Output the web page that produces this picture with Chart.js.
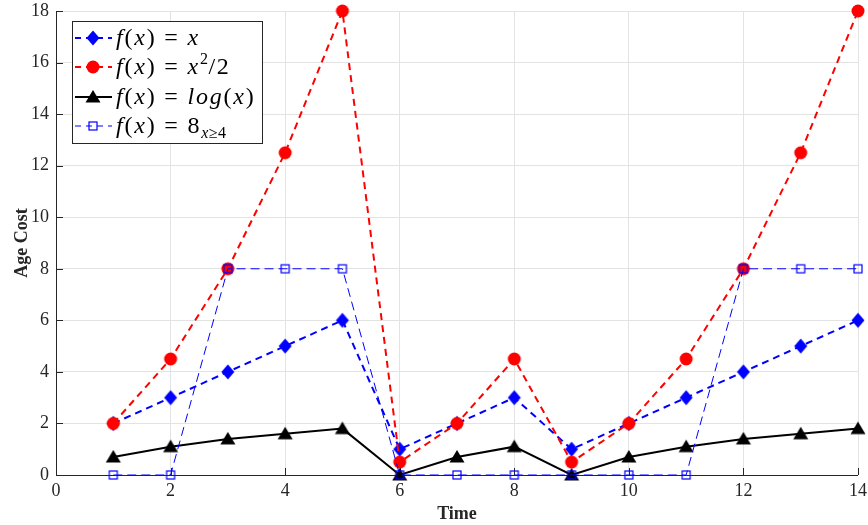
<!DOCTYPE html>
<html>
<head>
<meta charset="utf-8">
<script src="https://cdn.jsdelivr.net/npm/chart.js@4.4.1/dist/chart.umd.min.js"></script>
<style>
  html, body { margin: 0; padding: 0; background: #fff; }
  #wrap { width: 868px; height: 525px; position: relative; }
</style>
</head>
<body>
<div id="wrap"><canvas id="c" width="868" height="525"></canvas></div>
<script>
// Time steps and the cost curves evaluated at each step
const times = [1, 2, 3, 4, 5, 6, 7, 8, 9, 10, 11, 12, 13, 14];
const linearCost = [2, 3, 4, 5, 6, 1, 2, 3, 1, 2, 3, 4, 5, 6];
const squareCost = [2, 4.5, 8, 12.5, 18, 0.5, 2, 4.5, 0.5, 2, 4.5, 8, 12.5, 18];
const logCost = [0.7, 1.1, 1.4, 1.6, 1.8, 0, 0.7, 1.1, 0, 0.7, 1.1, 1.4, 1.6, 1.8];
const stepCost = [0, 0, 8, 8, 8, 0, 0, 0, 0, 0, 0, 8, 8, 8];

const xTicks = [0, 2, 4, 6, 8, 10, 12, 14];
const yTicks = [0, 2, 4, 6, 8, 10, 12, 14, 16, 18];

const BLUE = '#0000ff';
const RED = '#ff0000';
const BLACK = '#000000';
const SERIF = 'Liberation Serif';

function toPoints(vals) {
  return times.map((t, i) => ({ x: t, y: vals[i] }));
}

// Marker glyphs drawn on small canvases
function makeMarker(kind, color) {
  const s = 20;
  const cv = document.createElement('canvas');
  cv.width = s; cv.height = s;
  const g = cv.getContext('2d');
  const c = s / 2;
  g.fillStyle = color;
  g.strokeStyle = color;
  g.beginPath();
  if (kind === 'diamond') {
    g.moveTo(c, c - 7.5); g.lineTo(c + 6.5, c); g.lineTo(c, c + 7.5); g.lineTo(c - 6.5, c);
    g.closePath(); g.fill();
  } else if (kind === 'circle') {
    g.arc(c, c, 6.5, 0, Math.PI * 2); g.fill();
  } else if (kind === 'triangle') {
    g.moveTo(c, c - 7); g.lineTo(c + 7.5, c + 5.5); g.lineTo(c - 7.5, c + 5.5);
    g.closePath(); g.fill();
  } else if (kind === 'square') {
    g.lineWidth = 1.2;
    g.strokeRect(c - 4, c - 4, 8, 8);
  }
  return cv;
}

const markers = {
  diamond: makeMarker('diamond', BLUE),
  circle: makeMarker('circle', RED),
  triangle: makeMarker('triangle', BLACK),
  square: makeMarker('square', BLUE)
};

const seriesStyle = [
  { color: BLUE, width: 2, dash: [7, 5], marker: markers.diamond },
  { color: RED, width: 2, dash: [7, 5], marker: markers.circle },
  { color: BLACK, width: 2, dash: [], marker: markers.triangle },
  { color: BLUE, width: 1, dash: [9, 5], marker: markers.square }
];

// Legend entries as text runs: [text, kind]
const legendEntries = [
  [['f', 'i'], ['(', 'n'], ['x', 'i'], [')', 'n'], [' = ', 'n'], ['x', 'i']],
  [['f', 'i'], ['(', 'n'], ['x', 'i'], [')', 'n'], [' = ', 'n'], ['x', 'i'], ['2', 'sup'], ['/2', 'n']],
  [['f', 'i'], ['(', 'n'], ['x', 'i'], [')', 'n'], [' = ', 'n'], ['log', 'i'], ['(', 'n'], ['x', 'i'], [')', 'n']],
  [['f', 'i'], ['(', 'n'], ['x', 'i'], [')', 'n'], [' = ', 'n'], ['8', 'n'], ['x', 'subi'], ['≥4', 'sub']]
];

const frame = {
  id: 'frame',
  beforeDatasetsDraw(chart) {
    const { ctx, chartArea: a, scales } = chart;
    ctx.save();
    ctx.strokeStyle = '#262626';
    ctx.lineWidth = 1;
    // inward tick marks on left and bottom axes
    ctx.beginPath();
    yTicks.forEach(v => {
      const y = Math.round(scales.y.getPixelForValue(v)) + 0.5;
      ctx.moveTo(a.left, y); ctx.lineTo(a.left + 7, y);
    });
    xTicks.forEach(v => {
      const x = Math.round(scales.x.getPixelForValue(v)) + 0.5;
      ctx.moveTo(x, a.bottom); ctx.lineTo(x, a.bottom - 7);
    });
    ctx.stroke();
    ctx.beginPath();
    ctx.moveTo(a.left + 0.5, a.top);
    ctx.lineTo(a.left + 0.5, a.bottom + 0.5);
    ctx.lineTo(a.right, a.bottom + 0.5);
    ctx.stroke();
    ctx.restore();
  },
  afterDraw(chart) {
    const ctx = chart.ctx;
    const box = { x: 72, y: 21, w: 190, h: 122 };
    ctx.save();
    ctx.fillStyle = '#ffffff';
    ctx.fillRect(box.x, box.y, box.w, box.h);
    ctx.strokeStyle = '#262626';
    ctx.lineWidth = 1;
    ctx.strokeRect(box.x + 0.5, box.y + 0.5, box.w, box.h);
    const rows = [38, 67, 97, 126];
    legendEntries.forEach((runs, i) => {
      const st = seriesStyle[i];
      const cy = rows[i];
      ctx.save();
      ctx.strokeStyle = st.color;
      ctx.lineWidth = st.width;
      ctx.setLineDash(st.dash.length ? [6, 5] : []);
      ctx.beginPath();
      ctx.moveTo(75, cy); ctx.lineTo(112, cy);
      ctx.stroke();
      ctx.restore();
      ctx.drawImage(st.marker, 93 - 10, cy - 10);
      let x = 116;
      ctx.fillStyle = '#000';
      ctx.textBaseline = 'alphabetic';
      const base = cy + 7;
      runs.forEach(([txt, kind]) => {
        let font, y = base, sp = 1.8;
        if (kind === 'i') font = 'italic 24px "' + SERIF + '"';
        else if (kind === 'n') font = '24px "' + SERIF + '"';
        else if (kind === 'sup') { font = '16px "' + SERIF + '"'; y = base - 10; sp = 0.5; }
        else if (kind === 'subi') { font = 'italic 16px "' + SERIF + '"'; y = base + 5; sp = 0.5; }
        else { font = '16px "' + SERIF + '"'; y = base + 5; sp = 0.5; }
        ctx.font = font;
        ctx.letterSpacing = sp + 'px';
        ctx.fillText(txt, x, y);
        x += ctx.measureText(txt).width;
      });
    });
    ctx.restore();
  }
};

const datasetsSrc = [linearCost, squareCost, logCost, stepCost];

function build() {
  new Chart(document.getElementById('c'), {
    type: 'line',
    data: {
      datasets: datasetsSrc.map((vals, i) => ({
        data: toPoints(vals),
        borderColor: seriesStyle[i].color,
        backgroundColor: seriesStyle[i].color,
        borderWidth: seriesStyle[i].width,
        borderDash: seriesStyle[i].dash,
        pointStyle: seriesStyle[i].marker,
        pointRadius: 8,
        pointHoverRadius: 8,
        tension: 0,
        clip: false,
        order: 3 - i
      }))
    },
    options: {
      responsive: false,
      animation: false,
      events: [],
      layout: { padding: { top: 11, right: 7, left: 0, bottom: 0 } },
      plugins: { legend: { display: false }, tooltip: { enabled: false } },
      scales: {
        x: {
          type: 'linear',
          min: 0, max: 14,
          afterBuildTicks: s => { s.ticks = xTicks.map(v => ({ value: v })); },
          afterFit: s => { s.height = 50; s.paddingLeft = 0; s.paddingRight = 0; },
          border: { display: false },
          grid: { color: '#e3e3e3', lineWidth: 1, drawTicks: false },
          ticks: {
            padding: 5,
            color: '#262626',
            font: { family: SERIF, size: 18 }
          },
          title: {
            display: true, text: 'Time', color: '#262626', padding: { top: 2, bottom: 0 },
            font: { family: SERIF, size: 18, weight: 'bold' }
          }
        },
        y: {
          type: 'linear',
          min: 0, max: 18,
          afterBuildTicks: s => { s.ticks = yTicks.map(v => ({ value: v })); },
          afterFit: s => { s.width = 56; s.paddingTop = 0; s.paddingBottom = 0; },
          border: { display: false },
          grid: { color: '#e3e3e3', lineWidth: 1, drawTicks: false },
          ticks: {
            padding: 7,
            color: '#262626',
            font: { family: SERIF, size: 18 }
          },
          title: {
            display: true, text: 'Age Cost', color: '#262626', padding: { top: 12, bottom: 0 },
            font: { family: SERIF, size: 18, weight: 'bold' }
          }
        }
      }
    },
    plugins: [frame]
  });
}

Promise.all([
  document.fonts.load('18px "' + SERIF + '"'),
  document.fonts.load('bold 18px "' + SERIF + '"'),
  document.fonts.load('italic 24px "' + SERIF + '"')
]).then(build, build);
</script>
</body>
</html>
